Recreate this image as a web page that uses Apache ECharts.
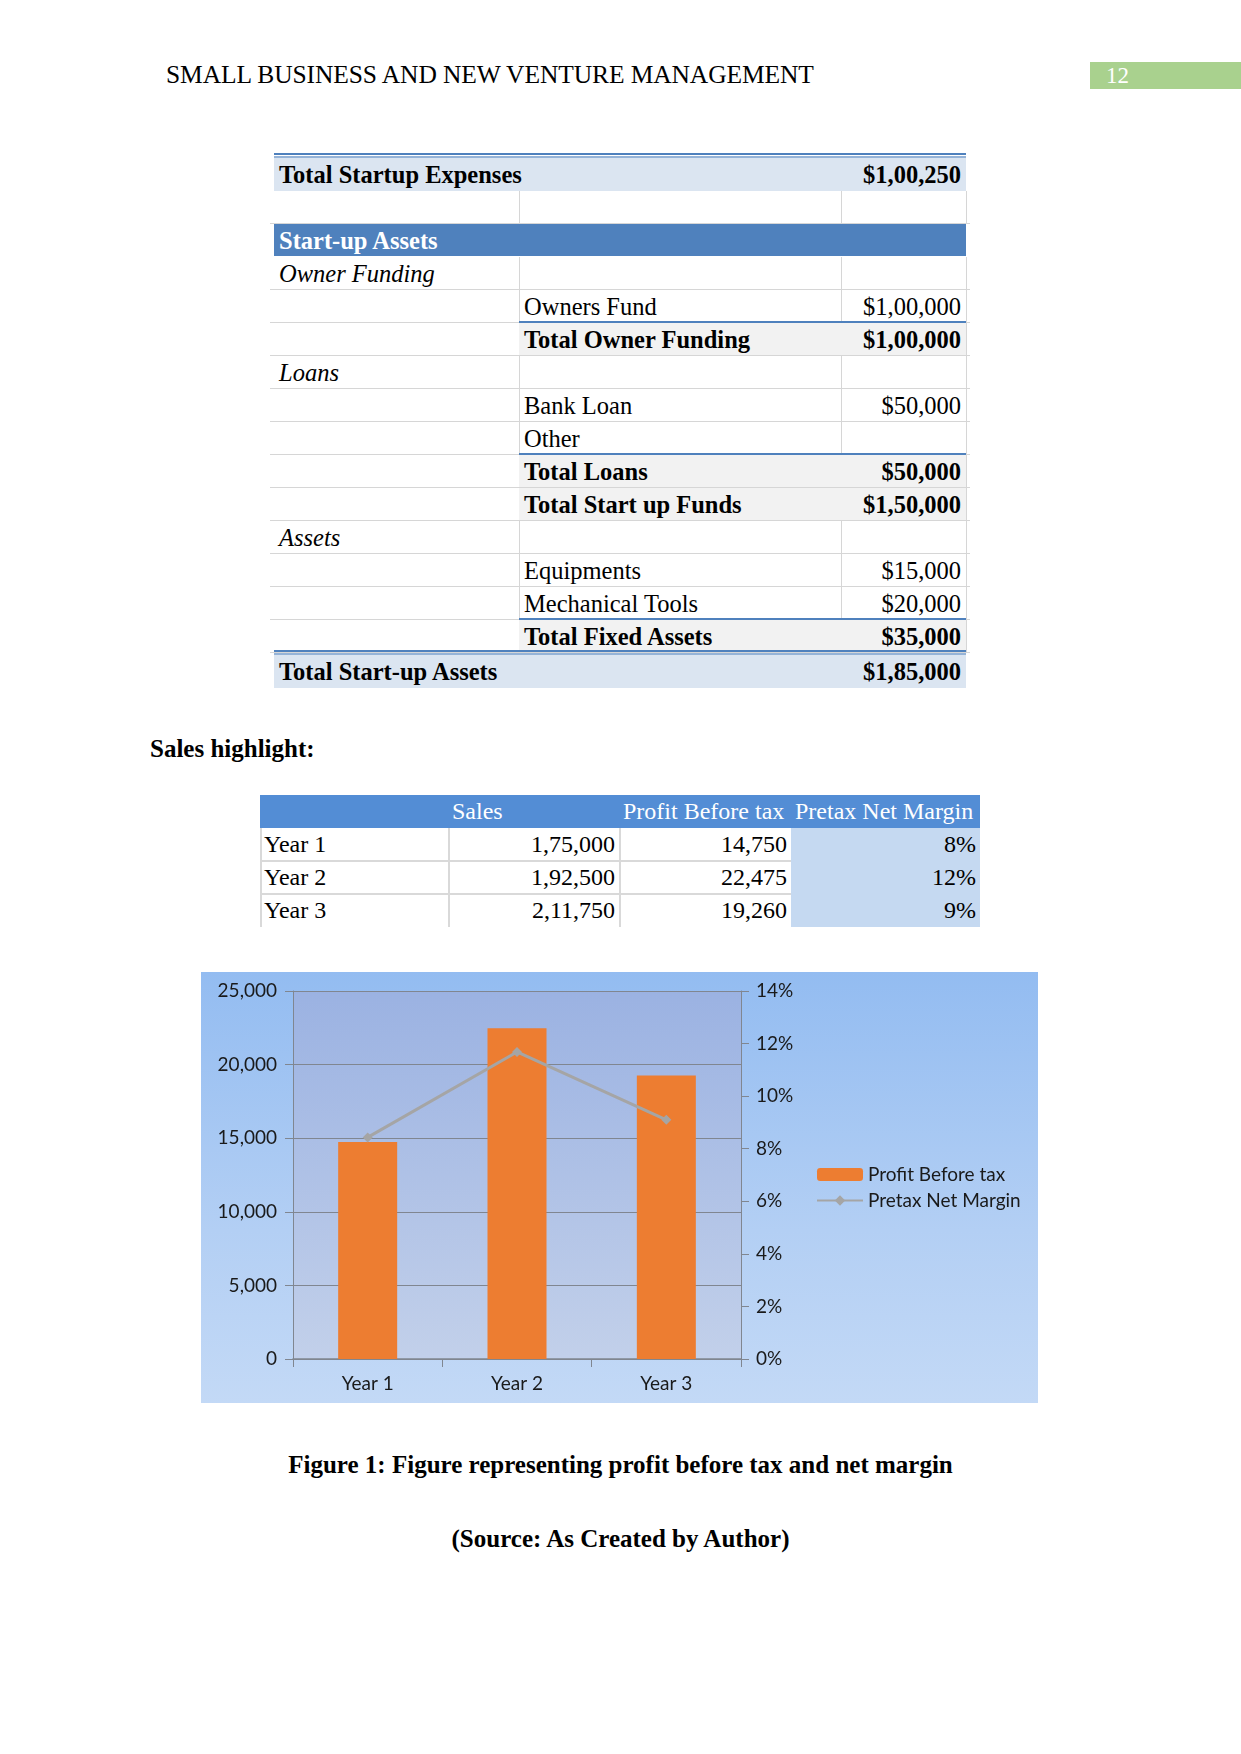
<!DOCTYPE html>
<html>
<head>
<meta charset="utf-8">
<script src="https://cdn.jsdelivr.net/npm/echarts@6/dist/echarts.min.js"></script>
<style>
  html, body { margin: 0; padding: 0; background: #fff; }
  body { width: 1241px; height: 1754px; position: relative; overflow: hidden; font-family: "Liberation Serif", "Times New Roman", serif; color: #000; }
  .abs { position: absolute; }
  .hdr { left: 166px; top: 60px; font-size: 25.5px; letter-spacing: -0.1px; }
  .pgno { left: 1090px; top: 62px; width: 151px; height: 27px; background: #a9d18e; color: #fff; font-size: 23px; line-height: 27px; padding-left: 16px; box-sizing: border-box; }
  .cell { position: absolute; box-sizing: border-box; white-space: nowrap; overflow: visible; font-size: 24.5px; line-height: 33px; padding: 0 5px; }
  .t2 { position: absolute; box-sizing: border-box; white-space: nowrap; font-size: 24px; line-height: 32px; padding: 0 4px; }
  .cap { left: 0; width: 1241px; text-align: center; font-weight: bold; font-size: 25px; }
  #chart { position: absolute; left: 201px; top: 972px; width: 837px; height: 431px;
           background: linear-gradient(to bottom, #93bcf1 0%, #b3cff4 60%, #c3d9f6 100%); }
</style>
</head>
<body>
<div class="abs hdr">SMALL BUSINESS AND NEW VENTURE MANAGEMENT</div>
<div class="abs pgno">12</div>
<div id="t1"></div>
<div class="abs" style="left:150px;top:735px;font-size:25px;font-weight:bold;">Sales highlight:</div>
<div id="t2"></div>
<div id="chart"></div>
<div class="abs cap" style="top:1451px;">Figure 1: Figure representing profit before tax and net margin</div>
<div class="abs cap" style="top:1525px;">(Source: As Created by Author)</div>

<script>
// start-up table rows: [col1, col2, value, kind]
const startupRows = [
  ['Total Startup Expenses', '', '$1,00,250', 'total'],
  ['', '', '', 'blank'],
  ['Start-up Assets', '', '', 'head'],
  ['Owner Funding', '', '', 'italic'],
  ['', 'Owners Fund', '$1,00,000', 'item'],
  ['', 'Total Owner Funding', '$1,00,000', 'sub'],
  ['Loans', '', '', 'italic'],
  ['', 'Bank Loan', '$50,000', 'item'],
  ['', 'Other', '', 'item'],
  ['', 'Total Loans', '$50,000', 'sub'],
  ['', 'Total Start up Funds', '$1,50,000', 'sub'],
  ['Assets', '', '', 'italic'],
  ['', 'Equipments', '$15,000', 'item'],
  ['', 'Mechanical Tools', '$20,000', 'item'],
  ['', 'Total Fixed Assets', '$35,000', 'sub'],
  ['Total Start-up Assets', '', '$1,85,000', 'total']
]
const blueUnder = ['Owners Fund', 'Other', 'Mechanical Tools']

// sales highlight table
const salesHeader = ['', 'Sales', 'Profit Before tax', 'Pretax Net Margin']
const salesYears = ['Year 1', 'Year 2', 'Year 3']
const salesValues = ['1,75,000', '1,92,500', '2,11,750']
const profitValues = ['14,750', '22,475', '19,260']
const marginLabels = ['8%', '12%', '9%']

// chart data
const categories = ['Year 1', 'Year 2', 'Year 3']
const profitBeforeTax = [14750, 22475, 19260]
const pretaxNetMargin = [0.0843, 0.1168, 0.0910]

function box(parent, cls, x, y, w, h, css, text) {
  const d = document.createElement('div')
  d.className = cls
  d.style.left = x + 'px'
  d.style.top = y + 'px'
  d.style.width = w + 'px'
  d.style.height = h + 'px'
  if (css) d.style.cssText += css
  if (text) d.textContent = text
  parent.appendChild(d)
  return d
}

function drawStartupTable() {
  const el = document.getElementById('t1')
  const X = [274, 519, 841, 966]
  const rowH = 33
  const grey = '#d6d6d6'
  startupRows.forEach((r, i) => {
    let y = 158 + i * rowH
    if (i === startupRows.length - 1) y += 2
    const kind = r[3]
    if (kind === 'total') {
      box(el, 'cell', X[0], y, X[3] - X[0], rowH, 'background:#dbe5f1;font-weight:bold;', r[0])
      box(el, 'cell', X[2], y, X[3] - X[2], rowH, 'text-align:right;font-weight:bold;', r[2])
      box(el, 'abs', X[0], y - 5, X[3] - X[0], 2, 'background:#4f81bd;')
      box(el, 'abs', X[0], y - 2, X[3] - X[0], 2, 'background:#95b3d7;')
      return
    }
    if (kind === 'head') {
      box(el, 'cell', X[0], y, X[3] - X[0], rowH - 1, 'background:#4f81bd;color:#fff;font-weight:bold;', r[0])
      return
    }
    // grid lines
    box(el, 'abs', X[0] - 4, y + rowH - 1, X[3] - X[0] + 8, 1, 'background:' + grey + ';')
    box(el, 'abs', X[1], y, 1, rowH, 'background:' + grey + ';')
    box(el, 'abs', X[3], y, 1, rowH, 'background:' + grey + ';')
    if (kind === 'blank' || kind === 'italic' || kind === 'item') {
      box(el, 'abs', X[2], y, 1, rowH, 'background:' + grey + ';')
    }
    if (kind === 'italic') {
      box(el, 'cell', X[0], y, X[1] - X[0], rowH, 'font-style:italic;', r[0])
    }
    if (kind === 'item') {
      box(el, 'cell', X[1], y, X[2] - X[1], rowH, '', r[1])
      box(el, 'cell', X[2], y, X[3] - X[2], rowH, 'text-align:right;', r[2])
      if (blueUnder.indexOf(r[1]) >= 0) {
        box(el, 'abs', X[1], y + rowH - 2, X[3] - X[1], 2, 'background:#4f81bd;')
      }
    }
    if (kind === 'sub') {
      box(el, 'cell', X[1], y, X[3] - X[1], rowH - 1, 'background:#f2f2f2;font-weight:bold;', r[1])
      box(el, 'cell', X[2], y, X[3] - X[2], rowH, 'text-align:right;font-weight:bold;', r[2])
    }
  })
}

function drawSalesTable() {
  const el = document.getElementById('t2')
  const X = [260, 448, 619, 791, 980]
  const top = 795
  const h = 33
  box(el, 'abs', X[0], top, X[4] - X[0], h, 'background:#538dd5;')
  salesHeader.forEach((t, c) => {
    box(el, 't2', X[c], top, X[c + 1] - X[c], h, 'color:#fff;line-height:32px;', t)
  })
  box(el, 'abs', X[3], top + h, X[4] - X[3], h * 3, 'background:#c5d9f1;')
  salesYears.forEach((yr, i) => {
    const y = top + h + i * h
    const cells = [yr, salesValues[i], profitValues[i], marginLabels[i]]
    cells.forEach((t, c) => {
      box(el, 't2', X[c], y, X[c + 1] - X[c], h, c === 0 ? '' : 'text-align:right;', t)
    })
    for (let c = 0; c < 3; c++) {
      box(el, 'abs', X[c], y, 2, h, 'background:#d9d9d9;')
    }
    if (i < 2) box(el, 'abs', X[0], y + h - 1, X[3] - X[0], 2, 'background:#d9d9d9;')
  })
}

drawStartupTable()
drawSalesTable()

const chart = echarts.init(document.getElementById('chart'))
const labelFont = { fontFamily: 'Lato', fontSize: 19, color: '#1a1a1a' }
const axisGrey = '#808690'

chart.setOption({
  backgroundColor: 'transparent',
  animation: false,
  grid: {
    left: 92, top: 19, right: 297, bottom: 44,
    show: true,
    borderWidth: 0,
    backgroundColor: {
      type: 'linear', x: 0, y: 0, x2: 0, y2: 1,
      colorStops: [{ offset: 0, color: '#9bb2e2' }, { offset: 1, color: '#c2d0ea' }]
    }
  },
  legend: {
    orient: 'vertical',
    left: 615,
    top: 193,
    padding: 0,
    itemWidth: 46,
    itemHeight: 13,
    itemGap: 7,
    textStyle: { fontFamily: 'Lato', fontSize: 19, color: '#1a1a1a' },
    data: ['Profit Before tax', 'Pretax Net Margin']
  },
  xAxis: {
    type: 'category',
    data: categories,
    axisLine: { lineStyle: { color: axisGrey, width: 1.5 } },
    axisTick: { show: true, length: 8, lineStyle: { color: axisGrey } },
    axisLabel: Object.assign({ margin: 15 }, labelFont)
  },
  yAxis: [{
    type: 'value',
    min: 0, max: 25000, interval: 5000,
    axisLine: { show: true, lineStyle: { color: axisGrey } },
    axisTick: { show: true, length: 8, lineStyle: { color: axisGrey } },
    splitLine: { lineStyle: { color: axisGrey, width: 1.2 } },
    axisLabel: Object.assign({
      margin: 16,
      formatter: v => v.toLocaleString('en-US')
    }, labelFont)
  }, {
    type: 'value',
    min: 0, max: 0.14, interval: 0.02,
    position: 'right',
    axisLine: { show: true, lineStyle: { color: axisGrey } },
    axisTick: { show: true, length: 8, lineStyle: { color: axisGrey } },
    splitLine: { show: false },
    axisLabel: Object.assign({
      margin: 15,
      formatter: v => Math.round(v * 100) + '%'
    }, labelFont)
  }],
  series: [{
    name: 'Profit Before tax',
    type: 'bar',
    data: profitBeforeTax,
    barWidth: 59,
    itemStyle: { color: '#ed7d31' }
  }, {
    name: 'Pretax Net Margin',
    type: 'line',
    yAxisIndex: 1,
    data: pretaxNetMargin,
    symbol: 'diamond',
    symbolSize: 10,
    lineStyle: { color: '#a5a5a5', width: 3 },
    itemStyle: { color: '#a5a5a5' }
  }]
})
</script>
</body>
</html>
